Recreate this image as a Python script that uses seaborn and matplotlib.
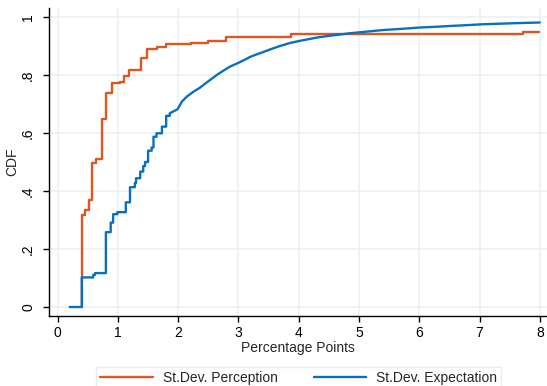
import numpy as np
import pandas as pd
import matplotlib
matplotlib.use("Agg")
import matplotlib.pyplot as plt
import seaborn as sns

# Data (step-function points: value, CDF)
perc_x = [0.4, 0.4, 0.45, 0.52, 0.574, 0.63, 0.74, 0.797, 0.896, 1.03, 1.10, 1.19,
          1.38, 1.48, 1.65, 1.80, 2.22, 2.50, 2.79, 3.87, 7.73, 7.98]
perc_y = [0.0, 0.317, 0.334, 0.369, 0.497, 0.51, 0.648, 0.739, 0.771, 0.777, 0.798, 0.817,
          0.858, 0.890, 0.898, 0.907, 0.911, 0.916, 0.932, 0.941, 0.947, 0.947]

exp_x = [0.2, 0.4, 0.59, 0.62, 0.80, 0.88, 0.92, 0.99, 1.13, 1.20, 1.28, 1.30, 1.37, 1.42,
         1.45, 1.50, 1.56, 1.59, 1.64, 1.73, 1.80, 1.86, 1.99, 2.06, 2.14, 2.25, 2.36, 2.42,
         2.53, 2.64, 2.75, 2.86, 3.0, 3.1, 3.19, 3.3, 3.41, 3.55, 3.69, 3.85, 4.0, 4.15,
         4.30, 4.5, 4.7, 4.85, 5.1, 5.4, 5.7, 5.96, 6.25, 6.51, 6.8, 7.06, 7.35, 7.65, 8.0]
exp_y = [0.0, 0.102, 0.111, 0.117, 0.258, 0.291, 0.320, 0.327, 0.361, 0.413, 0.427, 0.444,
         0.467, 0.486, 0.50, 0.539, 0.55, 0.587, 0.599, 0.622, 0.659, 0.668, 0.682, 0.708,
         0.725, 0.742, 0.756, 0.766, 0.783, 0.80, 0.815, 0.829, 0.842, 0.852, 0.862, 0.871,
         0.879, 0.890, 0.90, 0.910, 0.917, 0.923, 0.929, 0.935, 0.940, 0.944, 0.949, 0.955,
         0.959, 0.963, 0.966, 0.969, 0.972, 0.975, 0.977, 0.979, 0.981]

series_names = ["St.Dev. Perception", "St.Dev. Expectation"]
series_colors = ["#DE5620", "#0A6FBC"]

x_ticks = [0, 1, 2, 3, 4, 5, 6, 7, 8]
y_ticks = [0, 0.2, 0.4, 0.6, 0.8, 1.0]
y_tick_labels = ["0", ".2", ".4", ".6", ".8", "1"]


def stair_vertices(xs, ys, smooth_from=None):
    """Turn step points into polyline vertices (steps-post); beyond smooth_from
    the sparse points are simply connected (coarse steps become invisible)."""
    vx, vy = [xs[0]], [ys[0]]
    for i in range(1, len(xs)):
        if smooth_from is None or xs[i] <= smooth_from:
            vx.append(xs[i]); vy.append(ys[i - 1])
        vx.append(xs[i]); vy.append(ys[i])
    return vx, vy


px, py = stair_vertices(perc_x, perc_y)
ex, ey = stair_vertices(exp_x, exp_y, smooth_from=1.86)

df = pd.concat([
    pd.DataFrame({"x": px, "cdf": py, "series": series_names[0]}),
    pd.DataFrame({"x": ex, "cdf": ey, "series": series_names[1]}),
], ignore_index=True)

sns.set_style("white")
plt.rcParams["font.family"] = ["Liberation Sans", "DejaVu Sans"]

fig = plt.figure(figsize=(5.47, 3.86), dpi=100)
ax = fig.add_axes([49 / 547, 70 / 386, 498 / 547, 308 / 386])

sns.lineplot(data=df, x="x", y="cdf", hue="series", hue_order=series_names,
             palette=series_colors, estimator=None, sort=False, units="series",
             linewidth=1.7, ax=ax)

ax.set_xlim(-0.144, 8.12)
ax.set_ylim(-0.031, 1.031)
ax.set_xticks(x_ticks)
ax.set_xticklabels([str(t) for t in x_ticks])
ax.set_yticks(y_ticks)
ax.set_yticklabels(y_tick_labels, rotation=90, va="center")
ax.grid(True, color="#EAF1F3", linewidth=1.1)
ax.set_axisbelow(True)
for s in ["top", "right"]:
    ax.spines[s].set_visible(False)
for s in ["left", "bottom"]:
    ax.spines[s].set_color("black")
    ax.spines[s].set_linewidth(1.0)
ax.tick_params(axis="both", which="major", direction="out", length=4, width=1.0,
               color="black", labelsize=10, labelcolor="black", left=True, bottom=True)
ax.tick_params(axis="y", pad=6)
ax.tick_params(axis="x", pad=3)
ax.set_xlabel("Percentage Points", fontsize=10, labelpad=1)
ax.set_ylabel("CDF", fontsize=10, labelpad=1)

handles, labels = ax.get_legend_handles_labels()
if ax.get_legend() is not None:
    ax.get_legend().remove()
leg = fig.legend(handles[:2], labels[:2], loc="upper center", bbox_to_anchor=(0.546, 0.068),
                 ncol=2, fontsize=10, frameon=True, fancybox=False,
                 handlelength=3.8, handletextpad=0.7, columnspacing=2.6,
                 borderpad=0.3, edgecolor="#E4E9EB")
leg.get_frame().set_linewidth(1.0)

fig.savefig("out.png", dpi=100)
